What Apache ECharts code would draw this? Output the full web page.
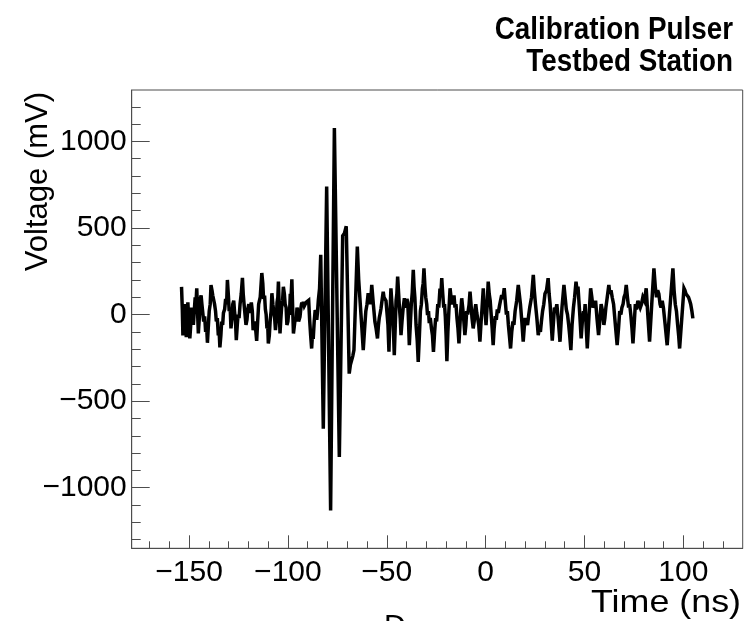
<!DOCTYPE html>
<html>
<head>
<meta charset="utf-8">
<script src="https://cdn.jsdelivr.net/npm/echarts@6/dist/echarts.min.js"></script>
<style>
html, body { margin: 0; padding: 0; background: #fff; }
#chart { width: 756px; height: 621px; }
</style>
</head>
<body>
<div id="chart"></div>
<script>
// waveform, [time ns, voltage mV]
var noiseBefore = [
  [-153.8, 160], [-153.4, 30], [-153.1, -120], [-152.7, -60], [-152.3, 60], [-151.9, 10],
  [-151.4, -130], [-151.0, -20], [-150.6, 70], [-150.1, -40], [-149.6, -138], [-149.2, -70],
  [-148.8, 40], [-148.3, 10], [-147.8, -60], [-147.3, 30], [-146.9, 100], [-146.5, 60],
  [-146.1, 152], [-145.7, 20], [-145.3, -109], [-144.8, -20], [-144.4, 90], [-143.9, 110],
  [-143.5, 60], [-143.0, 70], [-142.6, -40], [-142.1, -10], [-141.6, -100], [-141.1, -70],
  [-140.7, -163], [-140.2, -60], [-139.8, 20], [-139.3, 60], [-138.9, 171], [-138.4, 140],
  [-138.0, 110], [-137.5, 120], [-137.1, 60], [-136.6, 20], [-136.2, -40], [-135.7, -20],
  [-135.2, -120], [-134.8, -90], [-134.4, -190], [-133.9, -120], [-133.5, -40], [-133.0, -60],
  [-132.6, 10], [-132.0, 30], [-131.5, 90], [-131.0, 60], [-130.6, 200], [-130.1, 110],
  [-129.7, 20], [-129.2, 40], [-128.8, -80], [-128.3, -20], [-127.9, 60], [-127.4, 80],
  [-127.0, 20], [-126.5, -40], [-126.1, -148], [-125.6, -60], [-125.2, 0], [-124.7, -20],
  [-124.2, 60], [-123.6, 120], [-123.0, 212], [-122.6, 120], [-122.1, 50], [-121.6, 60],
  [-121.2, -60], [-120.7, -30], [-120.3, 30], [-119.8, 60], [-119.4, 10], [-118.9, 20],
  [-118.5, 70], [-118.0, 20], [-117.6, -90], [-117.1, -60], [-116.7, -40], [-116.2, -100],
  [-115.8, -152], [-115.3, -40], [-114.8, 60], [-114.0, 100], [-113.2, 240], [-112.7, 180],
  [-112.3, 90], [-111.8, 110], [-111.4, 30], [-111.0, 0], [-110.6, -80], [-110.2, -60],
  [-109.9, -167], [-109.4, -120], [-109.0, -40], [-108.5, 20], [-108.1, 123], [-107.6, 60],
  [-107.2, 20], [-106.7, -20], [-106.3, -90], [-105.9, -40], [-105.5, 70], [-105.1, 100],
  [-104.8, 190], [-104.4, 40], [-104.0, -109], [-103.6, -30], [-103.2, 40], [-102.7, 80],
  [-102.3, 160], [-101.8, 120], [-101.4, 60], [-100.9, 40], [-100.5, -60], [-100.0, -40],
  [-99.6, 20], [-99.2, 0], [-98.8, 120], [-98.4, 100], [-98.0, 204], [-97.6, 40],
  [-97.2, -109], [-96.7, -60], [-96.3, -20], [-95.8, -40], [-95.4, 40], [-95.0, 20],
  [-94.6, -40], [-94.2, -30], [-93.9, -13], [-93.4, 40], [-93.0, 70], [-92.6, 50],
  [-92.2, 74], [-91.7, 50], [-91.3, 60], [-90.8, 70], [-90.4, 80], [-89.9, 60],
  [-89.5, 82], [-89.0, -32], [-88.5, -120], [-88.0, -196], [-87.6, -120], [-87.2, -140],
  [-86.7, -40], [-86.2, 26], [-85.8, 10], [-85.4, -30], [-85.0, 20], [-84.6, 84]
];
var pulse = [
  [-84.0, 150], [-83.4, 345], [-82.1, -659], [-80.4, 740], [-78.4, -1132], [-76.5, 1078],
  [-74.0, -823], [-72.3, 455], [-71.4, 470], [-70.5, 510], [-69.0, -341], [-68.4, -290],
  [-67.8, -283], [-67.2, -240], [-66.6, -205], [-64.9, 393], [-64.2, 200], [-63.4, 60],
  [-62.7, -60], [-61.9, -205], [-61.2, -80], [-60.6, 20], [-60.0, 60], [-59.4, 123]
];
var noiseAfter = [
  [-58.9, 80], [-58.5, 60], [-58.0, 100], [-57.6, 171], [-56.8, 60], [-56.0, -41],
  [-55.4, -80], [-54.7, -138], [-54.2, -60], [-53.8, -20], [-53.3, 10], [-52.9, 36],
  [-52.3, 90], [-51.8, 132], [-51.4, 100], [-50.9, 110], [-50.4, 80], [-50.0, 90],
  [-49.4, -60], [-48.9, -215], [-48.4, 0], [-47.9, 152], [-47.5, 80], [-47.1, 20],
  [-46.6, -100], [-46.2, -235], [-45.7, -60], [-45.3, 80], [-44.9, 120], [-44.5, 219],
  [-44.0, 120], [-43.6, 40], [-43.2, -20], [-42.8, -119], [-42.3, -40], [-41.7, 40],
  [-41.1, 94], [-40.6, 40], [-40.2, 60], [-39.8, 90], [-39.4, 70], [-39.0, -40],
  [-38.6, -177], [-38.1, -60], [-37.6, 60], [-37.1, 130], [-36.6, 258], [-36.2, 160],
  [-35.8, 100], [-35.2, -60], [-34.6, -150], [-34.1, -273], [-33.5, -120], [-33.0, 20],
  [-32.5, 60], [-32.0, 150], [-31.6, 180], [-31.2, 267], [-30.7, 160], [-30.3, 100],
  [-29.8, 60], [-29.4, -3], [-28.9, 20], [-28.5, -50], [-28.0, -20], [-27.4, -80],
  [-26.9, -120], [-26.4, -215], [-25.8, -100], [-25.3, -20], [-24.8, -40], [-24.2, 60],
  [-23.7, 40], [-23.1, 150], [-22.6, 120], [-22.2, 210], [-21.7, 120], [-21.2, 40],
  [-20.8, 60], [-20.4, -10], [-20.0, -120], [-19.6, -270], [-19.1, -100], [-18.6, 20],
  [-18.0, 152], [-17.5, 100], [-17.0, 60], [-16.5, 80], [-16.0, 110], [-15.5, 40],
  [-15.0, 60], [-14.5, -20], [-14.0, -80], [-13.5, -167], [-13.0, -60], [-12.6, 20],
  [-12.1, 94], [-11.6, 40], [-11.0, -40], [-10.5, -119], [-10.0, -60], [-9.6, 20],
  [-9.1, 0], [-8.4, 55], [-7.9, 132], [-7.4, 60], [-6.9, -20], [-6.3, -80],
  [-5.8, -40], [-5.4, 30], [-5.0, 60], [-4.5, 10], [-4.0, 20], [-3.5, -60],
  [-2.9, -157], [-2.4, -60], [-1.8, 40], [-1.2, 152], [-0.8, 60], [-0.3, 20],
  [0.2, -61], [0.7, 40], [1.3, 190], [1.8, 120], [2.3, 80], [2.8, 0],
  [3.3, -80], [3.8, -177], [4.3, -80], [4.9, -10], [5.4, -30], [5.9, 30],
  [6.4, 10], [7.0, 50], [7.5, 80], [8.1, 113], [8.7, 90], [9.4, 152],
  [9.9, 80], [10.5, 0], [11.0, 20], [11.5, -60], [12.0, -120], [12.6, -196],
  [13.2, -100], [13.8, -40], [14.3, -60], [14.9, 20], [15.7, 80], [16.5, 171],
  [17.0, 120], [17.6, 60], [18.3, -40], [19.0, -157], [19.5, -80], [20.0, -20],
  [20.6, -40], [21.2, -60], [21.7, -10], [22.3, 40], [23.2, 100], [24.1, 229],
  [24.6, 140], [25.2, 60], [25.9, -20], [26.6, -119], [27.1, -80], [27.7, -100],
  [28.2, -40], [28.8, 20], [29.4, 60], [30.0, 120], [30.8, 140], [31.6, 210],
  [32.1, 120], [32.6, 60], [33.1, -40], [33.7, -150], [34.2, -60], [34.8, 40],
  [35.4, 20], [36.0, 60], [36.8, -40], [37.6, -157], [38.6, 40], [39.6, 171],
  [40.2, 100], [40.8, 30], [41.4, 0], [42.0, -60], [42.5, -120], [43.1, -205],
  [43.7, -60], [44.4, 40], [45.0, 100], [45.7, 190]
];
var noiseTail = [
  [46.2, 140], [46.7, 161], [47.5, 20], [48.3, -138], [48.9, -40], [49.5, 20],
  [49.9, -10], [50.3, 60], [50.8, -60], [51.4, -196], [52.2, -20], [53.1, 152],
  [53.7, 100], [54.3, 40], [55.0, 60], [55.6, 80], [56.3, -20], [57.1, -119],
  [57.7, -40], [58.4, 60], [59.1, 20], [59.8, -60], [60.3, -20], [60.8, 40],
  [61.5, 100], [62.3, 171], [62.8, 120], [63.4, 140], [64.0, 100], [64.7, 60],
  [65.6, -60], [66.5, -177], [67.2, -80], [67.8, 20], [68.4, 0], [68.9, 40],
  [69.5, 60], [70.0, 100], [70.6, 120], [71.1, 171], [71.7, 100], [72.3, 40],
  [72.8, 60], [73.4, 0], [74.0, -80], [74.5, -167], [75.1, -60], [75.7, 60],
  [76.3, 30], [77.0, 80], [77.6, 60], [78.2, 40], [78.8, 60], [79.5, 100],
  [80.3, 80], [81.2, 152], [82.0, 0], [82.9, -157], [84.0, 60], [85.1, 267],
  [85.8, 160], [86.4, 100], [87.0, 140], [87.6, 120], [88.2, 60], [88.7, 40],
  [89.3, 80], [89.9, 40], [90.8, -60], [91.8, -177], [93.2, 40], [94.7, 267],
  [95.3, 140], [95.9, 60], [96.5, 20], [97.1, -60], [97.6, -120], [98.1, -196],
  [99.2, -20], [100.3, 152], [100.8, 140], [101.3, 120], [102.0, 130], [102.6, 100],
  [103.2, 80], [103.7, 60], [104.3, 20], [104.8, -22]
];

var xMajorTicks = [-150, -100, -50, 0, 50, 100];
var xMinorTicks = [-170, -160, -140, -130, -120, -110, -90, -80, -70, -60, -40, -30, -20, -10,
                   10, 20, 30, 40, 60, 70, 80, 90, 110, 120];
var yMajorTicks = [-1000, -500, 0, 500, 1000];
var yMinorTicks = [-1300, -1200, -1100, -900, -800, -700, -600, -400, -300, -200, -100,
                   100, 200, 300, 400, 600, 700, 800, 900, 1100, 1200];

var xRange = [-179, 130];
var yRange = [-1350, 1297];

var points = noiseBefore.concat(pulse, noiseAfter, noiseTail);

var frameColor = '#4d4d4d';
var labelFont = 'Liberation Sans, Arial, Helvetica, sans-serif';

function minusFmt(v) {
  return String(v).replace('-', '\u2212');
}

var chart = echarts.init(document.getElementById('chart'), null, { renderer: 'canvas' });

var option = {
  animation: false,
  backgroundColor: '#fff',
  grid: {
    left: 131.7, right: 13.3, top: 90, bottom: 72.7,
    show: true, borderColor: frameColor, borderWidth: 1, backgroundColor: 'transparent'
  },
  xAxis: [
    {
      type: 'value', position: 'bottom', min: xRange[0], max: xRange[1],
      axisLine: { show: true, onZero: false, lineStyle: { color: frameColor, width: 1 } },
      splitLine: { show: false },
      axisTick: { show: true, inside: true, length: 13, customValues: xMajorTicks, lineStyle: { color: frameColor } },
      axisLabel: {
        show: true, customValues: xMajorTicks, margin: 9, formatter: minusFmt,
        color: '#000', fontSize: 30, fontFamily: labelFont
      }
    },
    {
      type: 'value', position: 'bottom', min: xRange[0], max: xRange[1],
      axisLine: { show: false, onZero: false },
      splitLine: { show: false },
      axisTick: { show: true, inside: true, length: 7, customValues: xMinorTicks, lineStyle: { color: frameColor } },
      axisLabel: { show: false }
    }
  ],
  yAxis: [
    {
      type: 'value', position: 'left', min: yRange[0], max: yRange[1],
      axisLine: { show: true, onZero: false, lineStyle: { color: frameColor, width: 1 } },
      splitLine: { show: false },
      axisTick: { show: true, inside: true, length: 18, customValues: yMajorTicks, lineStyle: { color: frameColor } },
      axisLabel: {
        show: true, customValues: yMajorTicks, margin: 5, formatter: minusFmt,
        color: '#000', fontSize: 30, fontFamily: labelFont
      }
    },
    {
      type: 'value', position: 'left', min: yRange[0], max: yRange[1],
      axisLine: { show: false, onZero: false },
      splitLine: { show: false },
      axisTick: { show: true, inside: true, length: 9, customValues: yMinorTicks, lineStyle: { color: frameColor } },
      axisLabel: { show: false }
    }
  ],
  graphic: [
    {
      type: 'text', x: 733, y: 30, scaleX: 0.87,
      style: { text: 'Calibration Pulser', align: 'right', verticalAlign: 'middle',
        font: 'bold 32px "Liberation Sans", Arial, sans-serif', fill: '#000' }
    },
    {
      type: 'text', x: 733, y: 62, scaleX: 0.87,
      style: { text: 'Testbed Station', align: 'right', verticalAlign: 'middle',
        font: 'bold 32px "Liberation Sans", Arial, sans-serif', fill: '#000' }
    },
    {
      type: 'text', x: 38, y: 92, rotation: Math.PI / 2,
      style: { text: 'Voltage (mV)', align: 'right', verticalAlign: 'middle',
        font: '31px Liberation Sans, Arial, sans-serif', fill: '#000' }
    },
    {
      type: 'text', x: 741, y: 603, scaleX: 1.12,
      style: { text: 'Time (ns)', align: 'right', verticalAlign: 'middle',
        font: '32px Liberation Sans, Arial, sans-serif', fill: '#000' }
    },
    {
      type: 'text', x: 384, y: 612,
      style: { text: 'D', align: 'left', verticalAlign: 'top',
        font: '30px Liberation Sans, Arial, sans-serif', fill: '#000' }
    }
  ],
  series: [
    {
      type: 'line',
      xAxisIndex: 0, yAxisIndex: 0,
      data: points,
      showSymbol: false,
      symbol: 'none',
      clip: true,
      lineStyle: { color: '#000', width: 3.5, join: 'miter', miterLimit: 4 }
    }
  ]
};

chart.setOption(option);
</script>
</body>
</html>
